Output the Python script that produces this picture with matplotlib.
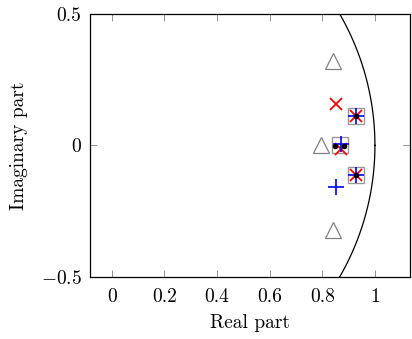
import numpy as np
import matplotlib
matplotlib.use("Agg")
import matplotlib.pyplot as plt

plt.rcParams["font.family"] = "serif"
plt.rcParams["font.serif"] = ["cmr10"]
plt.rcParams["mathtext.fontset"] = "cm"
plt.rcParams["axes.formatter.use_mathtext"] = True

# eigenvalue sets (real, imag)
tri_re = [0.84, 0.795, 0.84]
tri_im = [0.32, 0.0, -0.32]
sq_re = [0.93, 0.867, 0.93]
sq_im = [0.112, 0.0, -0.112]
redx_re = [0.854, 0.87, 0.93, 0.93]
redx_im = [0.156, -0.012, 0.112, -0.112]
plus_re = [0.93, 0.871, 0.93, 0.854]
plus_im = [0.112, 0.006, -0.112, -0.159]
dot_re = [0.93, 0.848, 0.882, 0.93]
dot_im = [0.112, -0.003, -0.003, -0.112]

xticks = [0, 0.2, 0.4, 0.6, 0.8, 1]
xlabels = ["0", "0.2", "0.4", "0.6", "0.8", "1"]
yticks = [-0.5, 0, 0.5]
ylabels = [r"$-0.5$", "0", "0.5"]

fig = plt.figure(figsize=(4.12, 3.39), dpi=100)
ax = fig.add_axes([0.218, 0.183, 0.777, 0.776])

th = np.linspace(0, 2 * np.pi, 721)
ax.plot(np.cos(th), np.sin(th), color="black", lw=0.9)

ax.plot(sq_re, sq_im, "s", ms=12, mfc="white", mec="0.6", mew=1.0, ls="none")
ax.plot(tri_re, tri_im, "^", ms=11, mfc="none", mec="0.5", mew=0.9, ls="none")
ax.plot(redx_re, redx_im, "x", ms=9, mec="red", mew=1.3, ls="none")
ax.plot(plus_re, plus_im, "+", ms=12, mec="blue", mew=1.2, ls="none")
ax.plot(dot_re, dot_im, "o", ms=3, color="black", ls="none")

ax.set_xlim(-0.083, 1.133)
ax.set_ylim(-0.5, 0.5)
ax.set_xticks(xticks)
ax.set_xticklabels(xlabels)
ax.set_yticks(yticks)
ax.set_yticklabels(ylabels)
ax.tick_params(direction="in", top=True, right=True, length=5, width=0.6,
               color="0.5", labelsize=14)
ax.tick_params(axis="x", pad=8)
ax.tick_params(axis="y", pad=6)
for s in ax.spines.values():
    s.set_linewidth(0.9)

ax.set_xlabel("Real part", fontsize=14, labelpad=6)
ax.set_ylabel("Imaginary part", fontsize=14, labelpad=9)

fig.savefig("out.png", dpi=100)
